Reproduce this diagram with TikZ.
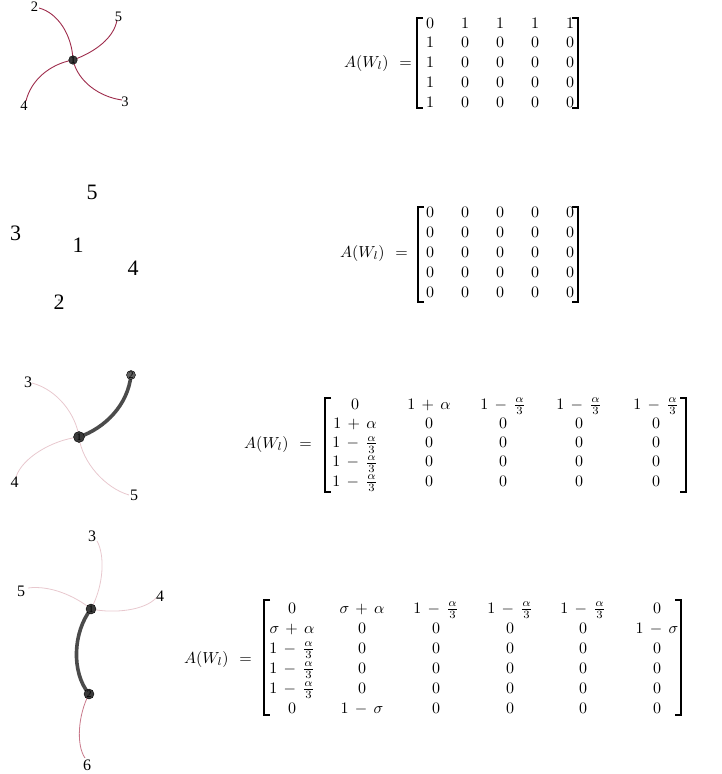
\documentclass[tikz,border=0pt]{standalone}
\usepackage{graphicx}
\usepackage{fontspec}
\newfontfamily\lblfont{Liberation Serif}
\definecolor{wine}{RGB}{158,44,76}
\definecolor{pinkl}{RGB}{232,200,206}
\definecolor{pinkm}{RGB}{200,120,138}
\definecolor{dotc}{RGB}{58,58,58}
\definecolor{dotg}{RGB}{95,95,95}
\definecolor{thickc}{RGB}{75,75,75}
\newcommand\mth[1]{\scalebox{1.6}{$\medmuskip=7mu\thickmuskip=12mu #1$}}
\begin{document}
\begin{tikzpicture}[x=1pt,y=-1pt,
  ent/.style={anchor=base,inner sep=0pt},
  lhs/.style={anchor=base east,inner sep=0pt},
  brk/.style={line width=1.1pt},
  laba/.style={inner sep=0pt,font=\lblfont\fontsize{14.5}{16}\selectfont},
  labb/.style={inner sep=0pt,font=\lblfont\fontsize{22}{24}\selectfont},
  labc/.style={inner sep=0pt,font=\lblfont\fontsize{16}{18}\selectfont},
  dotlab/.style={inner sep=0pt,font=\lblfont\fontsize{10}{10}\selectfont},
  dot/.style={circle,draw=black,line width=0.4pt,fill=dotc,inner sep=0pt},
  wineedge/.style={draw=wine,line width=0.9pt},
  pinkedge/.style={draw=pinkl,line width=0.8pt},
  pinkmedge/.style={draw=pinkm,line width=0.8pt},
  thickedge/.style={draw=thickc,line width=3.6pt,line cap=round}]
\useasboundingbox (0,0) rectangle (722,774);

% ---------------- panel 1 graph ----------------
\coordinate (p1c) at (73,60);
\coordinate (p1e2) at (39,8);
\coordinate (p1e5) at (117,20);
\coordinate (p1e3) at (122,100);
\coordinate (p1e4) at (26,101);
\draw[wineedge] (p1c) .. controls (72,35) and (58,13) .. (p1e2);
\draw[wineedge] (p1c) .. controls (95,52) and (114,38) .. (p1e5);
\draw[wineedge] (p1c) .. controls (78,82) and (100,97) .. (p1e3);
\draw[wineedge] (p1c) .. controls (50,64) and (31,80) .. (p1e4);
\node[dot,minimum size=8.6pt] (p1d) at (p1c) {};
\node[dotlab] (p1dl) at (p1c) {1};
\node[laba] (p1l2) at (34.5,7) {2};
\node[laba] (p1l5) at (118.5,17) {5};
\node[laba] (p1l4) at (24,106) {4};
\node[laba] (p1l3) at (125,102) {3};

% ---------------- panel 2 graph ----------------
\node[labb] (p2l5) at (92,192) {5};
\node[labb] (p2l3) at (15.5,233) {3};
\node[labb] (p2l1) at (78,245) {1};
\node[labb] (p2l4) at (133,268) {4};
\node[labb] (p2l2) at (59,302) {2};
\fill[gray!70] (59,300) circle (1.3);

% ---------------- panel 3 graph ----------------
\coordinate (p3c) at (79,437);
\coordinate (p3n2) at (131,375);
\coordinate (p3e3) at (32,383);
\coordinate (p3e4) at (16,477);
\coordinate (p3e5) at (129,495);
\draw[pinkedge] (p3c) .. controls (76,415) and (58,390) .. (p3e3);
\draw[pinkedge] (p3c) .. controls (52,440) and (22,458) .. (p3e4);
\draw[pinkedge] (p3c) .. controls (82,462) and (105,488) .. (p3e5);
\draw[thickedge] (p3c) .. controls (105,428) and (128,405) .. (p3n2);
\node[dot,minimum size=11pt] (p3d1) at (p3c) {};
\node[dotlab] (p3d1l) at (p3c) {1};
\node[dot,fill=dotg,minimum size=9pt] (p3d2) at (p3n2) {};
\node[dotlab] (p3d2l) at (p3n2) {2};
\node[labc] (p3l3) at (28,382) {3};
\node[labc] (p3l4) at (14.5,482) {4};
\node[labc] (p3l5) at (134,495) {5};

% ---------------- panel 4 graph ----------------
\coordinate (p4n1) at (91,609);
\coordinate (p4n2) at (89,694);
\coordinate (p4e3) at (97,541);
\coordinate (p4e5) at (28,588);
\coordinate (p4e4) at (156,598);
\coordinate (p4e6) at (85,758);
\draw[pinkedge] (p4n1) .. controls (104,585) and (105,555) .. (p4e3);
\draw[pinkedge] (p4n1) .. controls (75,596) and (50,585) .. (p4e5);
\draw[pinkedge] (p4n1) .. controls (115,614) and (145,610) .. (p4e4);
\draw[pinkmedge] (p4n2) .. controls (78,715) and (76,745) .. (p4e6);
\draw[thickedge] (p4n1) .. controls (73,632) and (71,672) .. (p4n2);
\node[dot,minimum size=10pt] (p4d1) at (p4n1) {};
\node[dotlab] (p4d1l) at (p4n1) {1};
\node[dot,minimum size=10pt] (p4d2) at (p4n2) {};
\node[dotlab] (p4d2l) at (p4n2) {2};
\node[labc] (p4l3) at (92,536) {3};
\node[labc] (p4l5) at (21,591) {5};
\node[labc] (p4l4) at (160,596) {4};
\node[labc] (p4l6) at (87,765) {6};

% ---------------- matrix 1 ----------------
\node[lhs] (a1) at (412,67.5) {\mth{A(W_l) =}};
\draw[brk] (423,18) -- (417,18) -- (417,108) -- (423,108);
\draw[brk] (572,18) -- (578,18) -- (578,108) -- (572,108);
\foreach \rw [count=\r] in {{0,1,1,1,1},{1,0,0,0,0},{1,0,0,0,0},{1,0,0,0,0},{1,0,0,0,0}}{
  \foreach \e [count=\c] in \rw {
    \node[ent] (ma-\r-\c) at ({430+35*(\c-1)},{28.2+19.75*(\r-1)}) {\mth{\e}};
  }
}

% ---------------- matrix 2 ----------------
\node[lhs] (a2) at (408,257) {\mth{A(W_l) =}};
\draw[brk] (424,207) -- (418,207) -- (418,302) -- (424,302);
\draw[brk] (572,207) -- (578,207) -- (578,302) -- (572,302);
\foreach \rw [count=\r] in {{0,0,0,0,0},{0,0,0,0,0},{0,0,0,0,0},{0,0,0,0,0},{0,0,0,0,0}}{
  \foreach \e [count=\c] in \rw {
    \node[ent] (mb-\r-\c) at ({430+35*(\c-1)},{217.2+20*(\r-1)}) {\mth{\e}};
  }
}

% ---------------- matrix 3 ----------------
\node[lhs] (a3) at (312,448) {\mth{A(W_l) =}};
\draw[brk] (331,398) -- (325,398) -- (325,492) -- (331,492);
\draw[brk] (680,398) -- (686,398) -- (686,492) -- (680,492);
\foreach \rw [count=\r] in {
  {0,1+\alpha,1-\frac{\alpha}{3},1-\frac{\alpha}{3},1-\frac{\alpha}{3}},
  {1+\alpha,0,0,0,0},
  {1-\frac{\alpha}{3},0,0,0,0},
  {1-\frac{\alpha}{3},0,0,0,0},
  {1-\frac{\alpha}{3},0,0,0,0}}{
  \foreach \e [count=\c] in \rw {
    \pgfmathsetmacro\cx{{355,429,503,579,656}[\c-1]}
    \node[ent] (mc-\r-\c) at (\cx,{409.2+19.25*(\r-1)}) {\mth{\e}};
  }
}

% ---------------- matrix 4 ----------------
\node[lhs] (a4) at (252,663) {\mth{A(W_l) =}};
\draw[brk] (270,600) -- (264,600) -- (264,715) -- (270,715);
\draw[brk] (675,600) -- (681,600) -- (681,715) -- (675,715);
\foreach \rw [count=\r] in {
  {0,\sigma+\alpha,1-\frac{\alpha}{3},1-\frac{\alpha}{3},1-\frac{\alpha}{3},0},
  {\sigma+\alpha,0,0,0,0,1-\sigma},
  {1-\frac{\alpha}{3},0,0,0,0,0},
  {1-\frac{\alpha}{3},0,0,0,0,0},
  {1-\frac{\alpha}{3},0,0,0,0,0},
  {0,1-\sigma,0,0,0,0}}{
  \foreach \e [count=\c] in \rw {
    \pgfmathsetmacro\cx{{292,362,436,510,583,657}[\c-1]}
    \node[ent] (md-\r-\c) at (\cx,{613.2+20*(\r-1)}) {\mth{\e}};
  }
}
\end{tikzpicture}
\end{document}
